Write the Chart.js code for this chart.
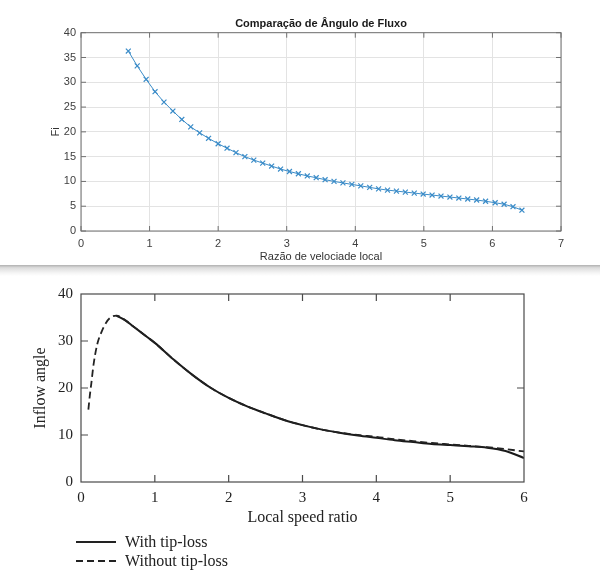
<!DOCTYPE html>
<html>
<head>
<meta charset="utf-8">
<script src="https://cdn.jsdelivr.net/npm/chart.js@4.4.0/dist/chart.umd.min.js"></script>
<style>
  body { margin: 0; width: 600px; height: 570px; background: #fff; position: relative; overflow: hidden; }
  #topChart { position: absolute; left: 0; top: 0; }
  #band { position: absolute; left: 0; top: 265px; width: 600px; height: 11px;
          background: linear-gradient(#b0b0b0, #dcdcdc 25%, #f4f4f4 70%, #fff); }
  #bottomChart { position: absolute; left: 0; top: 277px; }
  #legend { position: absolute; left: 76px; top: 532px; font-family: "Liberation Serif", serif;
            font-size: 16px; color: #222; }
  #legend .row { display: flex; align-items: center; height: 19.5px; white-space: nowrap; }
  #legend svg { margin-right: 9px; }
</style>
</head>
<body>
<canvas id="topChart" width="600" height="265"></canvas>
<div id="band"></div>
<canvas id="bottomChart" width="600" height="293"></canvas>
<div id="legend"></div>
<script>
// top chart (MATLAB style) - local speed ratio vs flow angle
const topX = [0.69, 0.82, 0.95, 1.08, 1.21, 1.34, 1.47, 1.60, 1.73, 1.86, 2.00, 2.13, 2.26, 2.39, 2.52,
  2.65, 2.78, 2.91, 3.04, 3.17, 3.30, 3.43, 3.56, 3.69, 3.82, 3.95, 4.08, 4.21, 4.34, 4.47,
  4.60, 4.73, 4.86, 4.99, 5.12, 5.25, 5.38, 5.51, 5.64, 5.77, 5.90, 6.04, 6.17, 6.30, 6.43];
const topFi = [36.3, 33.3, 30.6, 28.1, 26.0, 24.2, 22.5, 21.0, 19.8, 18.7, 17.6, 16.7, 15.8, 15.0, 14.3,
  13.7, 13.1, 12.5, 12.0, 11.55, 11.1, 10.75, 10.35, 10.0, 9.7, 9.4, 9.1, 8.8, 8.5, 8.25,
  8.05, 7.85, 7.65, 7.45, 7.25, 7.05, 6.85, 6.65, 6.45, 6.25, 6.0, 5.7, 5.4, 4.9, 4.2];
const topXTicks = [0, 1, 2, 3, 4, 5, 6, 7];
const topYTicks = [0, 5, 10, 15, 20, 25, 30, 35, 40];

// bottom chart (book figure) - inflow angle with / without tip-loss
const withX = [0.48, 0.6, 0.7, 0.8, 0.9, 1.0, 1.25, 1.5, 1.75, 2.0, 2.25, 2.5, 2.75, 3.0, 3.25,
  3.5, 3.75, 4.0, 4.25, 4.5, 4.75, 5.0, 5.25, 5.5, 5.75, 6.0];
const withTipLoss = [35.4, 34.4, 33.2, 32.0, 30.8, 29.6, 26.1, 22.9, 20.1, 17.9, 16.1, 14.6, 13.2, 12.1, 11.2,
  10.5, 9.9, 9.4, 8.9, 8.5, 8.1, 7.85, 7.6, 7.3, 6.6, 5.1];
const withoutX = [0.10, 0.12, 0.14, 0.17, 0.22, 0.28, 0.34, 0.40, 0.48, 0.6, 0.7, 0.8, 0.9, 1.0, 1.25,
  1.5, 1.75, 2.0, 2.25, 2.5, 2.75, 3.0, 3.25, 3.5, 3.75, 4.0, 4.25, 4.5, 4.75, 5.0,
  5.25, 5.5, 5.75, 6.0];
const withoutTipLoss = [15.4, 18.5, 21.0, 25.0, 29.3, 32.0, 33.9, 35.0, 35.4, 34.4, 33.2, 32.0, 30.8, 29.6, 26.1,
  22.9, 20.1, 17.9, 16.1, 14.6, 13.2, 12.1, 11.2, 10.5, 10.0, 9.6, 9.1, 8.7, 8.3, 8.0,
  7.7, 7.4, 7.0, 6.5];
const bottomXTicks = [0, 1, 2, 3, 4, 5, 6];
const bottomYTicks = [0, 10, 20, 30, 40];
const bottomLabels = ['With tip-loss', 'Without tip-loss'];

// box around the plot area + inward tick marks
const framePlugin = {
  id: 'frame',
  afterDatasetsDraw(chart, args, opts) {
    const { ctx, chartArea: a, scales: { x, y } } = chart;
    const L = opts.tickLen;
    ctx.save();
    ctx.strokeStyle = opts.color;
    ctx.lineWidth = opts.width;
    ctx.strokeRect(a.left, a.top, a.right - a.left, a.bottom - a.top);
    ctx.beginPath();
    (opts.bottom || []).forEach(v => { const p = x.getPixelForValue(v); ctx.moveTo(p, a.bottom); ctx.lineTo(p, a.bottom - L); });
    (opts.top || []).forEach(v => { const p = x.getPixelForValue(v); ctx.moveTo(p, a.top); ctx.lineTo(p, a.top + L); });
    (opts.left || []).forEach(v => { const p = y.getPixelForValue(v); ctx.moveTo(a.left, p); ctx.lineTo(a.left + L, p); });
    (opts.right || []).forEach(v => { const p = y.getPixelForValue(v); ctx.moveTo(a.right, p); ctx.lineTo(a.right - L, p); });
    ctx.stroke();
    ctx.restore();
  }
};

const setTicks = list => scale => { scale.ticks = list.map(v => ({ value: v })); };
const sans = { family: 'Liberation Sans', size: 11 };
const serif = { family: 'Liberation Serif', size: 15 };

new Chart(document.getElementById('topChart'), {
  type: 'line',
  data: {
    datasets: [{
      data: topX.map((x, i) => ({ x: x, y: topFi[i] })),
      borderColor: '#3b8cc8',
      borderWidth: 1,
      pointStyle: 'crossRot',
      pointRadius: 3.5,
      pointBorderColor: '#3b8cc8',
      pointBorderWidth: 1.2,
      fill: false,
      tension: 0,
    }],
  },
  options: {
    responsive: false,
    animation: false,
    layout: { padding: { left: 0, right: 39, top: 0, bottom: 0 } },
    plugins: {
      legend: { display: false },
      tooltip: { enabled: false },
      title: {
        display: true,
        fullSize: false,
        text: 'Comparação de Ângulo de Fluxo',
        color: '#1a1a1a',
        font: { family: 'Liberation Sans', size: 11, weight: 'bold', lineHeight: 1.2 },
        padding: { top: 17, bottom: 2.5 },
      },
      frame: { color: '#707070', width: 1, tickLen: 5, bottom: topXTicks, top: topXTicks, left: topYTicks, right: topYTicks },
    },
    scales: {
      x: {
        type: 'linear', min: 0, max: 7,
        afterBuildTicks: setTicks(topXTicks),
        afterFit: s => { s.height = 34; },
        grid: { color: '#e3e3e3', drawTicks: false },
        border: { display: false },
        ticks: { padding: 6.5, color: '#404040', font: sans },
        title: { display: true, text: 'Razão de velociade local', color: '#333', font: sans, padding: { top: 0, bottom: 1.4 } },
      },
      y: {
        type: 'linear', min: 0, max: 40,
        afterBuildTicks: setTicks(topYTicks),
        afterFit: s => { s.width = 81; },
        grid: { color: '#e3e3e3', drawTicks: false },
        border: { display: false },
        ticks: { padding: 5, color: '#404040', font: sans },
        title: { display: true, text: 'Fi', color: '#333', font: sans, padding: { top: 49, bottom: 0 } },
      },
    },
  },
  plugins: [framePlugin],
});

new Chart(document.getElementById('bottomChart'), {
  type: 'line',
  data: {
    datasets: [{
      label: bottomLabels[1],
      data: withoutX.map((x, i) => ({ x: x, y: withoutTipLoss[i] })),
      borderColor: '#222',
      borderWidth: 1.8,
      borderDash: [7, 4],
      pointRadius: 0,
      cubicInterpolationMode: 'monotone',
      fill: false,
    }, {
      label: bottomLabels[0],
      data: withX.map((x, i) => ({ x: x, y: withTipLoss[i] })),
      borderColor: '#1a1a1a',
      borderWidth: 2,
      pointRadius: 0,
      cubicInterpolationMode: 'monotone',
      fill: false,
    }],
  },
  options: {
    responsive: false,
    animation: false,
    layout: { padding: { left: 0, right: 76, top: 7, bottom: 42 } },
    plugins: {
      legend: { display: false },
      tooltip: { enabled: false },
      frame: { color: '#4a4a4a', width: 1.2, tickLen: 7, bottom: [1, 2, 3, 4, 5], top: [1, 2, 3, 4, 5], left: [10, 20, 30], right: [20] },
    },
    scales: {
      x: {
        type: 'linear', min: 0, max: 6,
        afterBuildTicks: setTicks(bottomXTicks),
        afterFit: s => { s.height = 46; },
        grid: { display: false, drawTicks: false },
        border: { display: false },
        ticks: { padding: 7, color: '#222', font: serif },
        title: { display: true, text: 'Local speed ratio', color: '#222', font: { family: 'Liberation Serif', size: 16 }, padding: { top: 0, bottom: 0.4 } },
      },
      y: {
        type: 'linear', min: 0, max: 40,
        afterBuildTicks: setTicks(bottomYTicks),
        afterFit: s => { s.width = 81; },
        grid: { display: false, drawTicks: false },
        border: { display: false },
        ticks: { padding: 8, color: '#222', font: serif },
        title: { display: true, text: 'Inflow angle', color: '#222', font: { family: 'Liberation Serif', size: 16 }, padding: { top: 31.4, bottom: 0 } },
      },
    },
  },
  plugins: [framePlugin],
});

// vertical legend under the bottom chart
const legend = document.getElementById('legend');
bottomLabels.forEach((label, i) => {
  const dash = i === 1 ? ' stroke-dasharray="7,4"' : '';
  legend.insertAdjacentHTML('beforeend',
    '<div class="row"><svg width="40" height="4"><line x1="0" y1="2" x2="40" y2="2" stroke="#222" stroke-width="1.8"' + dash + '/></svg>' +
    '<span>' + label + '</span></div>');
});
</script>
</body>
</html>
